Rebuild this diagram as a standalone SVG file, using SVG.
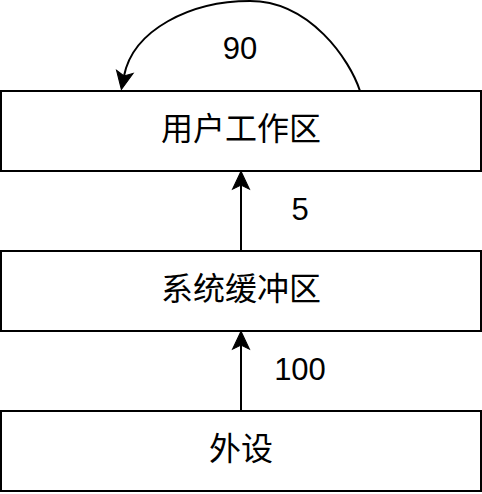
<svg xmlns="http://www.w3.org/2000/svg" width="482" height="494" viewBox="0 0 482 494">
<style>
.box{fill:#ffffff;stroke:#000000;stroke-width:2}
.edge{fill:none;stroke:#000000;stroke-width:2}
.cjk{font-family:"Noto Sans CJK SC","Liberation Sans",sans-serif;font-size:32px;fill:#000000;text-anchor:middle}
.lbl{font-family:"Liberation Sans",Arial,sans-serif;font-size:31px;fill:#000000;text-anchor:middle}
</style>
<defs>
<marker id="arrow" markerUnits="userSpaceOnUse" markerWidth="20" markerHeight="20" viewBox="-5 -9 19 18" refX="0" refY="0" orient="auto" overflow="visible">
<path d="M13,0 L-4,-8 L0,0 L-4,8 Z" fill="#000000" stroke="#000000" stroke-width="1"/>
</marker>
</defs>
<rect x="0" y="0" width="482" height="494" fill="#ffffff"/>
<g id="node-user">
<rect class="box" x="1" y="91" width="480" height="80"/>
<text class="cjk" x="241" y="140">用户工作区</text>
</g>
<g id="node-buffer">
<rect class="box" x="1" y="251" width="480" height="80"/>
<text class="cjk" x="241" y="300">系统缓冲区</text>
</g>
<g id="node-device">
<rect class="box" x="1" y="411" width="480" height="80"/>
<text class="cjk" x="241" y="460">外设</text>
</g>
<g id="connectors">
<line class="edge" x1="241" y1="411" x2="241" y2="345" marker-end="url(#arrow)"/>
<line class="edge" x1="241" y1="251" x2="241" y2="185" marker-end="url(#arrow)"/>
<path class="edge" d="M360,91 C350,60 310,1 250,1 C190,1 133,30 124,76" marker-end="url(#arrow)"/>
<text class="lbl" x="300" y="380">100</text>
<text class="lbl" x="300" y="220">5</text>
<text class="lbl" x="240" y="59">90</text>
</g>
</svg>
